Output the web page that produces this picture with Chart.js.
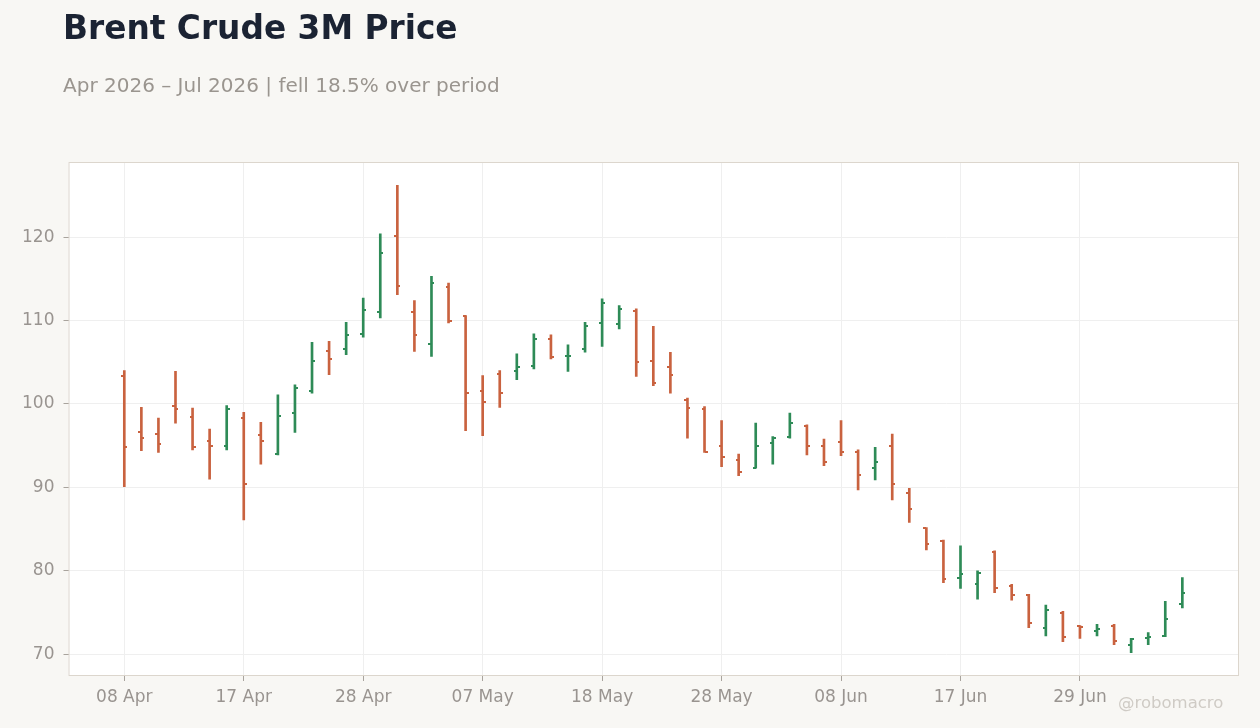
<!DOCTYPE html>
<html>
<head>
<meta charset="utf-8">
<script src="https://cdn.jsdelivr.net/npm/chart.js@4.4.1/dist/chart.umd.min.js"></script>
<style>
  html, body { margin: 0; padding: 0; background: #f8f7f4; }
  #wrap { position: relative; width: 1260px; height: 728px; overflow: hidden; font-family: "DejaVu Sans", sans-serif; }
  #chart { position: absolute; left: 0; top: 0; }
  .title { position: absolute; left: 63px; top: 12px; font-size: 32.8px; line-height: 1; font-weight: bold; color: #1b2333; white-space: nowrap; }
  .subtitle { position: absolute; left: 63px; top: 75px; font-size: 20px; line-height: 1; color: #9a958f; white-space: nowrap; }
  .credit { position: absolute; left: 1118px; top: 695px; font-size: 16.5px; line-height: 1; color: #cfcbc5; white-space: nowrap; }
</style>
</head>
<body>
<div id="wrap">
  <canvas id="chart" width="1260" height="728"></canvas>
  <div class="title">Brent Crude 3M Price</div>
  <div class="subtitle">Apr 2026 – Jul 2026 | fell 18.5% over period</div>
  <div class="credit">@robomacro</div>
</div>
<script>
// Trading days (US holidays skipped)
const dates = [
  '2026-04-08','2026-04-09','2026-04-10','2026-04-13','2026-04-14','2026-04-15','2026-04-16','2026-04-17',
  '2026-04-20','2026-04-21','2026-04-22','2026-04-23','2026-04-24','2026-04-27','2026-04-28','2026-04-29',
  '2026-04-30','2026-05-01','2026-05-04','2026-05-05','2026-05-06','2026-05-07','2026-05-08','2026-05-11',
  '2026-05-12','2026-05-13','2026-05-14','2026-05-15','2026-05-18','2026-05-19','2026-05-20','2026-05-21',
  '2026-05-22','2026-05-26','2026-05-27','2026-05-28','2026-05-29','2026-06-01','2026-06-02','2026-06-03',
  '2026-06-04','2026-06-05','2026-06-08','2026-06-09','2026-06-10','2026-06-11','2026-06-12','2026-06-15',
  '2026-06-16','2026-06-17','2026-06-18','2026-06-22','2026-06-23','2026-06-24','2026-06-25','2026-06-26',
  '2026-06-29','2026-06-30','2026-07-01','2026-07-02','2026-07-06','2026-07-07','2026-07-08'
];

// OHLC values
const opens = [
  103.4, 96.6, 96.4, 99.7, 98.4, 95.6, 95.0, 98.3,
  96.3, 94.0, 98.9, 101.6, 106.3, 106.6, 108.4, 111.0,
  120.1, 111.0, 107.2, 114.0, 110.5, 101.6, 103.6, 104.0,
  104.6, 107.8, 105.7, 106.6, 109.7, 109.6, 111.2, 105.2,
  104.4, 100.5, 99.4, 95.0, 93.3, 92.3, 95.3, 96.0,
  97.4, 95.0, 95.5, 94.3, 92.3, 95.0, 89.3, 85.1,
  83.6, 79.2, 78.4, 82.3, 78.2, 77.1, 73.2, 75.0,
  73.35, 72.85, 73.45, 71.15, 72.0, 72.2, 76.0
];
const highs = [
  104.0, 99.6, 98.3, 103.9, 99.5, 97.0, 99.8, 99.0,
  97.8, 101.1, 102.3, 107.4, 107.5, 109.8, 112.7, 120.4,
  126.2, 112.4, 115.3, 114.5, 110.6, 103.4, 104.0, 106.0,
  108.4, 108.3, 107.1, 109.8, 112.6, 111.8, 111.4, 109.3,
  106.2, 100.7, 99.7, 98.0, 94.0, 97.7, 96.1, 98.9,
  97.5, 95.8, 98.0, 94.5, 94.8, 96.4, 89.9, 85.2,
  83.7, 83.0, 80.0, 82.4, 78.4, 77.2, 75.9, 75.15,
  73.45, 73.6, 73.6, 71.9, 72.6, 76.35, 79.2
];
const lows = [
  90.1, 94.4, 94.2, 97.7, 94.5, 91.0, 94.5, 86.1,
  92.8, 93.9, 96.6, 101.3, 103.5, 105.9, 108.0, 110.3,
  113.1, 106.3, 105.7, 109.7, 96.8, 96.2, 99.6, 102.9,
  104.2, 105.4, 103.9, 106.2, 106.9, 109.0, 103.3, 102.2,
  101.3, 95.9, 94.2, 92.5, 91.4, 92.3, 92.8, 95.9,
  93.9, 92.6, 93.8, 89.7, 90.9, 88.5, 85.8, 82.5,
  78.6, 77.9, 76.6, 77.4, 76.5, 73.2, 72.2, 71.5,
  71.9, 72.2, 71.15, 70.2, 71.15, 72.1, 75.55
];
const closes = [
  94.8, 95.9, 95.2, 99.4, 94.8, 95.0, 99.4, 90.4,
  95.6, 98.5, 101.9, 105.1, 105.4, 108.3, 111.3, 118.1,
  114.1, 108.3, 114.5, 109.9, 101.3, 100.2, 101.3, 104.4,
  107.8, 105.6, 105.8, 109.3, 112.1, 111.4, 105.0, 102.5,
  103.5, 99.5, 94.3, 93.6, 91.9, 95.0, 95.9, 97.7,
  95.0, 93.0, 94.3, 91.5, 93.1, 90.4, 87.4, 83.2,
  79.0, 79.6, 79.8, 77.9, 77.1, 73.8, 75.3, 72.1,
  73.25, 73.05, 71.6, 71.85, 72.05, 74.2, 77.3
];

// Axis ticks
const xTickLabels = ['08 Apr', '17 Apr', '28 Apr', '07 May', '18 May', '28 May', '08 Jun', '17 Jun', '29 Jun'];
const yTickValues = [70, 80, 90, 100, 110, 120];

document.addEventListener('DOMContentLoaded', function () {

    const UP = '#2e8b57';
    const DOWN = '#c9623f';
    const TEXT = '#999490';
    const monthNames = ['Jan','Feb','Mar','Apr','May','Jun','Jul','Aug','Sep','Oct','Nov','Dec'];

    function fmtDate(s) {
        const p = s.split('-');
        return p[2] + ' ' + monthNames[parseInt(p[1], 10) - 1];
    }

    // index of each labelled tick in the dates list
    const xTickIdx = xTickLabels.map(lbl => dates.findIndex(d => fmtDate(d) === lbl));

    const colors = opens.map((o, i) => closes[i] >= o ? UP : DOWN);

    const lo = Math.min(...lows), hi = Math.max(...highs);
    const yPad = (hi - lo) * 0.05;

    // white plot box + thin frame
    const plotBox = {
        id: 'plotBox',
        beforeDraw(chart) {
            const a = chart.chartArea, c = chart.ctx;
            c.save();
            c.fillStyle = '#ffffff';
            c.fillRect(a.left, a.top, a.right - a.left, a.bottom - a.top);
            c.restore();
        },
        afterDraw(chart) {
            const a = chart.chartArea, c = chart.ctx;
            c.save();
            c.strokeStyle = '#dcd6cd';
            c.lineWidth = 1;
            c.strokeRect(a.left + 0.5, a.top + 0.5, a.right - a.left - 1, a.bottom - a.top - 1);
            c.restore();
        }
    };

    // open (left) and close (right) ticks, placed with the chart's scales
    const ohlcTicks = {
        id: 'ohlcTicks',
        afterDatasetsDraw(chart) {
            const xs = chart.scales.x, ys = chart.scales.y, c = chart.ctx;
            c.save();
            c.lineWidth = 2;
            dates.forEach((d, i) => {
                const x = Math.round(xs.getPixelForValue(i));
                const yo = Math.round(ys.getPixelForValue(opens[i]));
                const yc = Math.round(ys.getPixelForValue(closes[i]));
                c.strokeStyle = colors[i];
                c.beginPath();
                c.moveTo(x - 3, yo); c.lineTo(x, yo);
                c.moveTo(x, yc); c.lineTo(x + 3, yc);
                c.stroke();
            });
            c.restore();
        }
    };

    new Chart(document.getElementById('chart').getContext('2d'), {
        type: 'bar',
        data: {
            datasets: [{
                data: dates.map((d, i) => ({ x: i, y: [lows[i], highs[i]] })),
                backgroundColor: colors,
                borderWidth: 0,
                barThickness: 2,
                grouped: false
            }]
        },
        options: {
            responsive: false,
            animation: false,
            devicePixelRatio: 1,
            layout: { padding: { top: 162, right: 21, left: 0, bottom: 0 } },
            plugins: { legend: { display: false }, tooltip: { enabled: false } },
            scales: {
                x: {
                    type: 'linear',
                    offset: false,
                    min: -3.27,
                    max: dates.length - 1 + 3.32,
                    afterBuildTicks: axis => { axis.ticks = xTickIdx.map(v => ({ value: v })); },
                    afterFit: axis => { axis.height = 52; },
                    ticks: {
                        autoSkip: false,
                        maxRotation: 0,
                        color: TEXT,
                        font: { family: 'DejaVu Sans', size: 17 },
                        padding: 6,
                        callback: v => xTickLabels[xTickIdx.indexOf(v)]
                    },
                    grid: { offset: false, color: '#efefef', tickColor: '#a8a39d', tickLength: 5 },
                    border: { display: false }
                },
                y: {
                    min: lo - yPad,
                    max: hi + yPad,
                    afterBuildTicks: axis => { axis.ticks = yTickValues.map(v => ({ value: v })); },
                    afterFit: axis => { axis.width = 68.5; },
                    ticks: {
                        color: TEXT,
                        font: { family: 'DejaVu Sans', size: 17 },
                        padding: 9
                    },
                    grid: { color: '#efefef', tickColor: '#a8a39d', tickLength: 5 },
                    border: { display: false }
                }
            }
        },
        plugins: [plotBox, ohlcTicks]
    });
});
</script>
</body>
</html>
